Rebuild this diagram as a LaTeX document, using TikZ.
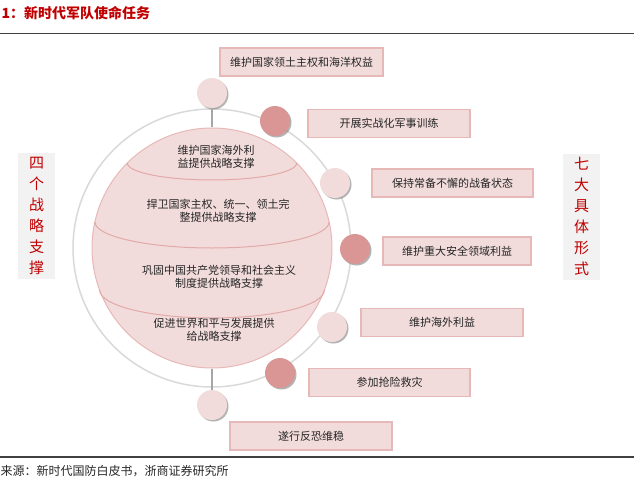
\documentclass[tikz,border=0pt]{standalone}
\usepackage{fontspec}
\setmainfont{Noto Sans CJK SC}
\usetikzlibrary{shadows}

\definecolor{pinkfill}{HTML}{F2DCDB}
\definecolor{pinkdark}{HTML}{D99694}
\definecolor{pinkline}{HTML}{E6B9B8}
\definecolor{pinkdiv}{HTML}{E2A9A8}
\definecolor{ringgray}{HTML}{D9D9D9}
\definecolor{titlered}{HTML}{C00000}
\definecolor{sidegray}{HTML}{F2F2F2}

\begin{document}
\begin{tikzpicture}[x=1pt,y=-1pt,
  taskbox/.style={draw=pinkline, fill=pinkfill, line width=1.2pt,
    minimum width=162, minimum height=28, inner sep=0pt,
    font=\fontsize{11}{13}\selectfont, text=black!85},
  ball/.style={circle, fill=pinkfill, minimum size=30, inner sep=0pt,
    drop shadow={shadow xshift=1.5pt, shadow yshift=-1.5pt, opacity=0.6}},
  darkball/.style={ball, fill=pinkdark},
  band/.style={align=center, font=\fontsize{11}{13}\selectfont, text=black!85},
  side/.style={fill=sidegray, minimum width=37, minimum height=126,
    inner sep=0pt, align=center, text=titlered,
    font=\fontsize{15}{21}\selectfont}]

\useasboundingbox (0,0) rectangle (634,484);

% Title and rules
\node[anchor=west, text=titlered, font=\bfseries\fontsize{14}{16}\selectfont]
  (title) at (-2,13) {1：新时代军队使命任务};
\draw[black!75, line width=1pt] (0,34) -- (634,34);
\draw[black!75, line width=1.2pt] (0,457) -- (634,457);
\node[anchor=west, font=\fontsize{12}{14}\selectfont, text=black!85]
  (source) at (-3,471) {来源：新时代国防白皮书，浙商证券研究所};

% Ring and globe
\draw[ringgray, line width=1.5pt] (212,248) circle (139);
\node[circle, draw=pinkline, fill=pinkfill, line width=1pt,
  minimum size=240, inner sep=0pt] (globe) at (212,248) {};

% Bands
\draw[pinkdiv, line width=1pt] (127.3,163) arc[start angle=180, end angle=0, x radius=84.7, y radius=17];
\draw[pinkdiv, line width=1pt] (94.9,222) arc[start angle=180, end angle=0, x radius=117.1, y radius=26];
\draw[pinkdiv, line width=1pt] (99.6,290) arc[start angle=180, end angle=0, x radius=112.4, y radius=28];

\node[band] (b1) at (216,157) {维护国家海外利\\益提供战略支撑};
\node[band] (b2) at (218,211) {捍卫国家主权、统一、领土完\\整提供战略支撑};
\node[band] (b3) at (219,277) {巩固中国共产党领导和社会主义\\制度提供战略支撑};
\node[band] (b4) at (214,330) {促进世界和平与发展提供\\给战略支撑};

% Balls
\node[ball] (c1) at (212,93) {};
\node[darkball] (c2) at (275,121) {};
\node[ball] (c3) at (335,183) {};
\node[darkball] (c4) at (355,249) {};
\node[ball] (c5) at (332,327) {};
\node[darkball] (c6) at (280,373) {};
\node[ball] (c7) at (212,405) {};

\draw[black!35, line width=1.5pt] (c1) -- (globe.north);
\draw[black!35, line width=1.5pt] (globe.south) -- (c7);

% Tasks
\node[taskbox, minimum width=163] (t1) at (301.5,62) {维护国家领土主权和海洋权益};
\node[taskbox] (t2) at (389,123.5) {开展实战化军事训练};
\node[taskbox, minimum width=161] (t3) at (452.5,183) {保持常备不懈的战备状态};
\node[taskbox, minimum width=148] (t4) at (457,251) {维护重大安全领域利益};
\node[taskbox] (t5) at (442,322.5) {维护海外利益};
\node[taskbox, minimum width=161] (t6) at (389.5,382.5) {参加抢险救灾};
\node[taskbox] (t7) at (311,436) {遂行反恐维稳};

% Side labels
\node[side] (left) at (36.5,216) {四\\个\\战\\略\\支\\撑};
\node[side] (right) at (581.5,216.5) {七\\大\\具\\体\\形\\式};

\end{tikzpicture}
\end{document}
